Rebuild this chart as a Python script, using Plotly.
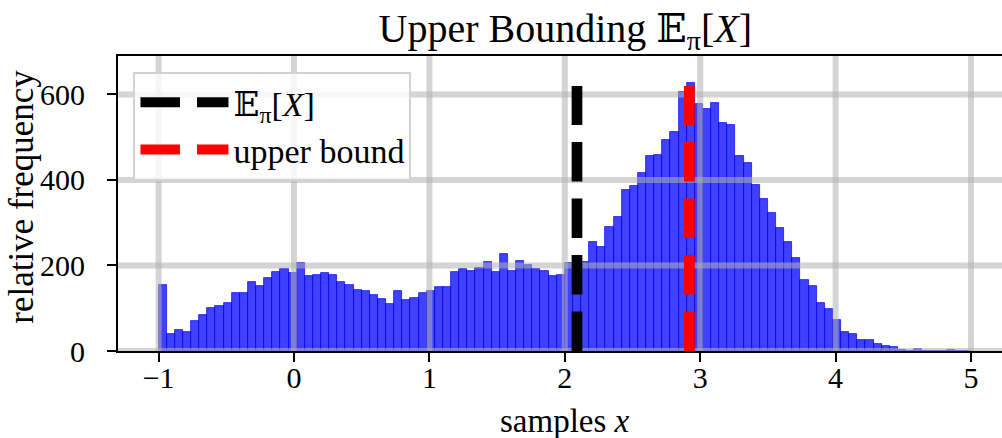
import plotly.graph_objects as go

# ---------------- data ----------------
bin_start = -1.0
bin_width = 0.06
counts = [154, 39, 48, 44, 70, 84, 100, 105, 112, 135,
          135, 161, 152, 170, 184, 191, 182, 205, 175, 177,
          182, 177, 161, 154, 142, 140, 131, 121, 109, 140,
          119, 124, 135, 140, 149, 149, 184, 191, 187, 194,
          208, 184, 226, 187, 210, 201, 191, 187, 175, 177,
          205, 205, 208, 254, 243, 289, 313, 376, 385, 416,
          456, 458, 493, 512, 606, 627, 578, 566, 580, 533,
          528, 456, 440, 388, 355, 322, 287, 254, 217, 166,
          152, 112, 98, 72, 44, 39, 25, 25, 16, 11,
          9, 3, 1, 4, 0, 0, 1, 2, 0, 1]
expected_value = 2.09
upper_bound = 2.92
vline_top = 620
x_ticks = [-1, 0, 1, 2, 3, 4, 5]
y_ticks = [0, 200, 400, 600]
x_range = [-1.3, 5.229]
y_range = [0, 690]

centers = [bin_start + (i + 0.5) * bin_width for i in range(len(counts))]

FONT = "Liberation Serif, DejaVu Serif, serif"
GRID = "rgba(176,176,176,0.55)"

fig = go.Figure()

fig.add_trace(go.Bar(
    x=centers, y=counts, width=bin_width,
    marker=dict(color="rgba(0,0,255,0.75)",
                line=dict(color="rgba(0,0,230,0.85)", width=0.8)),
    showlegend=False, hoverinfo="skip"))

# grid lines drawn above the bars
gx, gy = [], []
for t in x_ticks:
    gx += [t, t, None]
    gy += [y_range[0], y_range[1], None]
for t in y_ticks:
    gx += [x_range[0], 5.4, None]
    gy += [t, t, None]
fig.add_trace(go.Scatter(x=gx, y=gy, mode="lines",
                         line=dict(color=GRID, width=6),
                         showlegend=False, hoverinfo="skip"))

fig.add_trace(go.Scatter(
    x=[expected_value, expected_value], y=[0, vline_top], mode="lines",
    line=dict(color="black", width=10.7, dash="39.5px,17px"),
    name="𝔼<sub>π</sub>[<i>X</i>]", legendgroup="a"))
fig.add_trace(go.Scatter(
    x=[upper_bound, upper_bound], y=[0, vline_top], mode="lines",
    line=dict(color="red", width=10.7, dash="39.5px,17px"),
    name="upper bound", legendgroup="b"))

fig.update_layout(
    width=1002, height=438,
    margin=dict(l=118, r=0, t=56, b=87),
    plot_bgcolor="white", paper_bgcolor="white",
    bargap=0,
    font=dict(family=FONT, color="black", size=30),
    title=dict(text="Upper Bounding 𝔼<sub>π</sub>[<i>X</i>]",
               x=0.506, xanchor="center", xref="paper",
               y=0.937, yanchor="middle", yref="container",
               font=dict(size=40, family=FONT, color="black")),
    legend=dict(x=0.0175, y=0.947, xanchor="left", yanchor="top",
                bgcolor="rgba(255,255,255,0.8)",
                bordercolor="rgb(210,210,210)", borderwidth=2,
                font=dict(size=34, family=FONT, color="black"),
                itemwidth=88, tracegroupgap=0, traceorder="grouped"),
    xaxis=dict(range=x_range, tickvals=x_ticks, showgrid=False, zeroline=False,
               showline=True, linecolor="black", linewidth=2, mirror=True,
               ticks="outside", ticklen=9, tickwidth=2, tickcolor="black",
               ticklabelstandoff=-10,
               tickfont=dict(size=30, family=FONT, color="black")),
    yaxis=dict(range=y_range, tickvals=y_ticks, showgrid=False, zeroline=False,
               showline=True, linecolor="black", linewidth=2, mirror=False,
               ticks="outside", ticklen=9, tickwidth=2, tickcolor="black",
               ticklabelstandoff=16,
               tickfont=dict(size=30, family=FONT, color="black")),
    annotations=[
        dict(text="samples <i>x</i>", xref="paper", yref="paper",
             x=0.506, y=-0.237, xanchor="center", yanchor="middle",
             showarrow=False, font=dict(size=33, family=FONT, color="black")),
        dict(text="relative frequency", xref="paper", yref="paper",
             x=-0.11, y=0.522, xanchor="center", yanchor="middle",
             textangle=-90, showarrow=False,
             font=dict(size=35, family=FONT, color="black")),
    ],
)

fig.write_html("out.html")
